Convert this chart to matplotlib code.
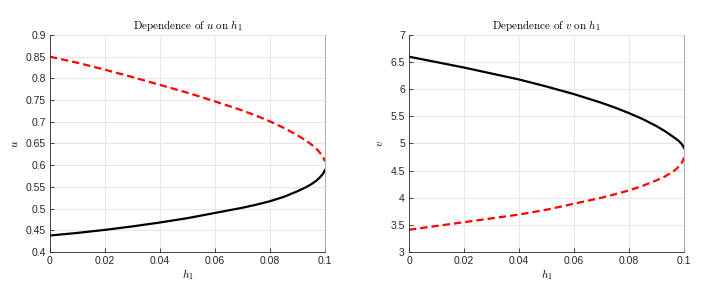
import matplotlib
matplotlib.use("Agg")
import matplotlib.pyplot as plt

# values
h1 = [0.0, 0.01, 0.02, 0.03, 0.04, 0.05, 0.06, 0.07, 0.075, 0.08, 0.085, 0.09,
      0.093, 0.095, 0.097, 0.098, 0.099, 0.0995, 0.1]

u_dashed = [0.850, 0.836, 0.820, 0.803, 0.785, 0.767, 0.747, 0.726, 0.714, 0.701,
            0.686, 0.669, 0.657, 0.648, 0.637, 0.630, 0.622, 0.616, 0.609]
u_solid = [0.438, 0.444, 0.451, 0.459, 0.468, 0.478, 0.490, 0.502, 0.509, 0.517,
           0.527, 0.540, 0.549, 0.556, 0.565, 0.571, 0.578, 0.583, 0.589]

v_solid = [6.60, 6.50, 6.40, 6.29, 6.18, 6.05, 5.91, 5.75, 5.66, 5.56,
           5.45, 5.32, 5.23, 5.16, 5.09, 5.05, 5.00, 4.965, 4.92]
v_dashed = [3.41, 3.48, 3.55, 3.62, 3.69, 3.78, 3.89, 4.00, 4.065, 4.135,
            4.22, 4.32, 4.39, 4.45, 4.52, 4.57, 4.63, 4.67, 4.74]

plt.rcParams['mathtext.fontset'] = 'cm'
plt.rcParams['font.family'] = ['Liberation Sans', 'DejaVu Sans']

fig = plt.figure(figsize=(7.08, 2.88), dpi=100)
ax1 = fig.add_axes([0.0706, 0.125, 0.3884, 0.7535])
ax2 = fig.add_axes([0.5777, 0.125, 0.3884, 0.7535])


def style(ax, ylim, yticks, yticklabels, var):
    ax.set_xlim(0, 0.1)
    ax.set_ylim(*ylim)
    ax.set_xticks([0, 0.02, 0.04, 0.06, 0.08, 0.1])
    ax.set_xticklabels(['0', '0.02', '0.04', '0.06', '0.08', '0.1'])
    ax.set_yticks(yticks)
    ax.set_yticklabels(yticklabels)
    ax.grid(True, color='#e6e6e6', linewidth=0.7)
    ax.set_axisbelow(True)
    for s in ['left', 'bottom']:
        ax.spines[s].set_color('#262626')
        ax.spines[s].set_linewidth(0.6)
    ax.spines['top'].set_visible(False)
    ax.spines['right'].set_color('#a0a0a0')
    ax.spines['right'].set_linewidth(0.6)
    ax.tick_params(direction='in', length=3, width=0.6, labelsize=7.5,
                   colors='#262626', pad=3)
    ax.set_title(r'$\mathrm{Dependence\ of\ }%s\mathrm{\ on\ }h_1$' % var,
                 fontsize=8, pad=4)
    ax.set_xlabel(r'$h_1$', fontsize=8, labelpad=1)
    ax.set_ylabel(r'$%s$' % var, fontsize=8, labelpad=4)


ax1.plot(h1, u_dashed, '--', color='#ff0000', linewidth=1.6, dashes=(3.3, 1.8))
ax1.plot(h1, u_solid, '-', color='black', linewidth=1.6)
style(ax1, (0.4, 0.9),
      [0.4, 0.45, 0.5, 0.55, 0.6, 0.65, 0.7, 0.75, 0.8, 0.85, 0.9],
      ['0.4', '0.45', '0.5', '0.55', '0.6', '0.65', '0.7', '0.75', '0.8', '0.85', '0.9'],
      'u')

ax2.plot(h1, v_solid, '-', color='black', linewidth=1.6)
ax2.plot(h1, v_dashed, '--', color='#ff0000', linewidth=1.6, dashes=(3.3, 1.8))
style(ax2, (3, 7), [3, 3.5, 4, 4.5, 5, 5.5, 6, 6.5, 7],
      ['3', '3.5', '4', '4.5', '5', '5.5', '6', '6.5', '7'], 'v')

fig.savefig('out.png', dpi=100)
